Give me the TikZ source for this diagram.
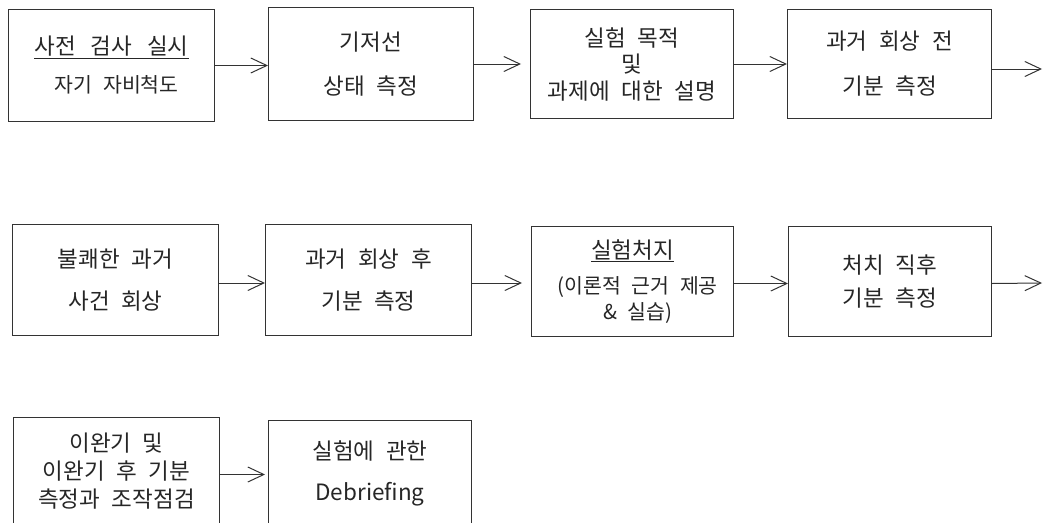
\documentclass[tikz,border=0pt]{standalone}
\usepackage{fontspec}
\setmainfont{Noto Sans CJK KR}[WordSpace=2.3]
\usetikzlibrary{arrows.meta}
\tikzset{
  stepbox/.style={draw=black!80, line width=1pt, anchor=north west, inner sep=0pt,
    align=center, text=black!85},
  arr/.style={draw=black!80, line width=1pt, -{Straight Barb[length=16pt,width=15pt,line width=1pt]}},
}
\newcommand{\fs}[1]{\fontsize{22.5}{#1}\selectfont}
\newcommand{\fss}[1]{\fontsize{20.5}{#1}\selectfont}
\begin{document}
\begin{tikzpicture}[x=1pt,y=-1pt]
\useasboundingbox (0,0) rectangle (1057,522);
\begin{scope}
\clip (0,0) rectangle (1057,522);
% row 1
\node[stepbox, minimum width=206pt, minimum height=112pt, font=\fs{38}] (b1) at (8,9)
  {\underline{사전\hspace{15pt}검사\hspace{15pt}실시}\\{\fss{38} 자기 자비척도}};
\node[stepbox, minimum width=205pt, minimum height=113pt, font=\fs{44}] (b2) at (268,7)
  {기저선\\상태 측정};
\node[stepbox, minimum width=203pt, minimum height=109pt, font=\fs{26.5}] (b3) at (530,9)
  {실험 목적\\및\\과제에 대한 설명};
\node[stepbox, minimum width=204pt, minimum height=109pt, font=\fs{45}] (b4) at (787,9)
  {과거 회상 전\\기분 측정};
% row 2
\node[stepbox, minimum width=206pt, minimum height=111pt, font=\fs{42}] (b5) at (12,224)
  {불쾌한 과거\\사건 회상};
\node[stepbox, minimum width=206pt, minimum height=111pt, font=\fs{42}] (b6) at (265,224)
  {과거 회상 후\\기분 측정};
\node[stepbox, minimum width=202pt, minimum height=110pt, font=\fs{26}] (b7) at (531,226)
  {\underline{실험처지}\\[9pt]{\fss{26} (이론적 근거 제공}\\{\fss{26} \& 실습)}};
\node[stepbox, minimum width=203pt, minimum height=110pt, font=\fs{33}] (b8) at (788,226)
  {처치 직후\\기분 측정};
% row 3
\node[stepbox, minimum width=206pt, minimum height=108pt, font=\fs{28}] (b9) at (13,417)
  {이완기 및\\이완기 후 기분\\측정과 조작점검};
\node[stepbox, minimum width=203pt, minimum height=105pt, font=\fs{41}] (b10) at (268,420)
  {실험에 관한\\Debriefing};
\end{scope}
\coordinate (e1) at (1042,69);
\coordinate (e2) at (1042,283);
% arrows
\draw[arr] (b1.east) -- (b1.east -| b2.west);
\draw[arr, shorten >=9pt] (b2.east) -- (b2.east -| b3.west);
\draw[arr] (b3.east) -- (b3.east -| b4.west);
\draw[arr] ([yshift=-5pt]b4.east) -- (e1);
\draw[arr] ([yshift=-3pt]b5.east) -- ([yshift=-3pt]b5.east -| b6.west);
\draw[arr, shorten >=9pt] ([yshift=-3pt]b6.east) -- ([yshift=-3pt]b6.east -| b7.west);
\draw[arr] ([yshift=-2pt]b7.east) -- ([yshift=-2pt]b7.east -| b8.west);
\draw[arr] ([yshift=-2pt]b8.east) -- (e2);
\draw[arr, shorten >=3pt] ([yshift=-3pt]b9.east) -- ([yshift=-3pt]b9.east -| b10.west);
\end{tikzpicture}
\end{document}
